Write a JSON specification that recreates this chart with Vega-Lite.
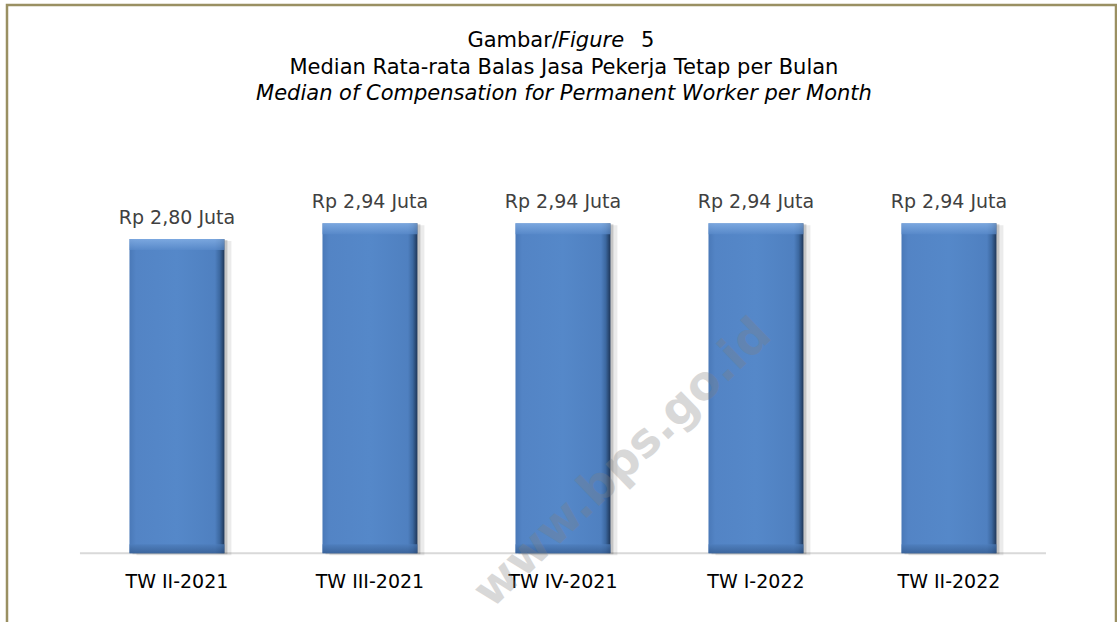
{
  "$schema": "https://vega.github.io/schema/vega-lite/v6.json",
  "width": 1109,
  "height": 638,
  "autosize": {"type": "none"},
  "padding": {"left": 7, "top": 5, "right": 1, "bottom": 0},
  "background": "white",
  "config": {
    "view": {"stroke": "#9a9062", "strokeWidth": 2.5},
    "font": "DejaVu Sans"
  },
  "data": {
    "values": [
      {"periode": "TW II-2021", "median": 2.80, "label": "Rp 2,80 Juta"},
      {"periode": "TW III-2021", "median": 2.94, "label": "Rp 2,94 Juta"},
      {"periode": "TW IV-2021", "median": 2.94, "label": "Rp 2,94 Juta"},
      {"periode": "TW I-2022", "median": 2.94, "label": "Rp 2,94 Juta"},
      {"periode": "TW II-2022", "median": 2.94, "label": "Rp 2,94 Juta"}
    ]
  },
  "layer": [
    {
      "data": {"values": [{}]},
      "mark": {"type": "rule", "color": "#d9d9d9", "strokeWidth": 2, "xOffset": -97, "x2Offset": 97},
      "encoding": {
        "x": {"datum": "TW II-2021", "type": "nominal", "scale": {"type": "band", "domain": ["TW II-2021", "TW III-2021", "TW IV-2021", "TW I-2022", "TW II-2022"], "paddingInner": 0.508, "paddingOuter": 0.627, "align": 0.506}, "axis": null},
        "x2": {"datum": "TW II-2022"},
        "y": {"datum": 0, "type": "quantitative", "scale": {"domain": [-0.8, 4.884], "nice": false, "zero": false}, "axis": null}
      }
    },
    {
      "mark": {"type": "bar", "color": "#000000", "opacity": 0.16, "xOffset": 3, "yOffset": 1},
      "encoding": {
        "x": {"field": "periode", "type": "nominal", "sort": null, "scale": {"type": "band", "domain": ["TW II-2021", "TW III-2021", "TW IV-2021", "TW I-2022", "TW II-2022"], "paddingInner": 0.508, "paddingOuter": 0.627, "align": 0.506}, "axis": null},
        "y": {"field": "median", "type": "quantitative", "scale": {"domain": [-0.8, 4.884], "nice": false, "zero": false}, "axis": null}
      }
    },
    {
      "mark": {"type": "bar", "color": "#000000", "opacity": 0.08, "xOffset": 7, "yOffset": 2},
      "encoding": {
        "x": {"field": "periode", "type": "nominal", "sort": null, "scale": {"type": "band", "domain": ["TW II-2021", "TW III-2021", "TW IV-2021", "TW I-2022", "TW II-2022"], "paddingInner": 0.508, "paddingOuter": 0.627, "align": 0.506}, "axis": null},
        "y": {"field": "median", "type": "quantitative", "scale": {"domain": [-0.8, 4.884], "nice": false, "zero": false}, "axis": null}
      }
    },
    {
      "mark": {
        "type": "bar",
        "color": {
          "gradient": "linear", "x1": 0, "y1": 0, "x2": 1, "y2": 0,
          "stops": [
            {"offset": 0, "color": "#4a79b8"},
            {"offset": 0.07, "color": "#5384c5"},
            {"offset": 0.5, "color": "#5588c9"},
            {"offset": 0.9, "color": "#4f80c0"},
            {"offset": 0.95, "color": "#3c68a0"},
            {"offset": 1, "color": "#1e3658"}
          ]
        }
      },
      "encoding": {
        "x": {"field": "periode", "type": "nominal", "sort": null, "scale": {"type": "band", "domain": ["TW II-2021", "TW III-2021", "TW IV-2021", "TW I-2022", "TW II-2022"], "paddingInner": 0.508, "paddingOuter": 0.627, "align": 0.506}, "axis": null},
        "y": {"field": "median", "type": "quantitative", "scale": {"domain": [-0.8, 4.884], "nice": false, "zero": false}, "axis": null}
      }
    },
    {
      "mark": {
        "type": "tick", "orient": "horizontal", "thickness": 11, "size": 95, "yOffset": 5.5,
        "color": {
          "gradient": "linear", "x1": 0, "y1": 0, "x2": 0, "y2": 1,
          "stops": [
            {"offset": 0, "color": "#8cb6ea"},
            {"offset": 1, "color": "#5a8bcb"}
          ]
        }
      },
      "encoding": {
        "x": {"field": "periode", "type": "nominal", "sort": null, "scale": {"type": "band", "domain": ["TW II-2021", "TW III-2021", "TW IV-2021", "TW I-2022", "TW II-2022"], "paddingInner": 0.508, "paddingOuter": 0.627, "align": 0.506}, "axis": null},
        "y": {"field": "median", "type": "quantitative", "scale": {"domain": [-0.8, 4.884], "nice": false, "zero": false}, "axis": null}
      }
    },
    {
      "mark": {
        "type": "tick", "orient": "horizontal", "thickness": 9, "size": 95, "yOffset": -4.5,
        "color": {
          "gradient": "linear", "x1": 0, "y1": 0, "x2": 0, "y2": 1,
          "stops": [
            {"offset": 0, "color": "#4d7dbb"},
            {"offset": 1, "color": "#33598c"}
          ]
        }
      },
      "encoding": {
        "x": {"field": "periode", "type": "nominal", "sort": null, "scale": {"type": "band", "domain": ["TW II-2021", "TW III-2021", "TW IV-2021", "TW I-2022", "TW II-2022"], "paddingInner": 0.508, "paddingOuter": 0.627, "align": 0.506}, "axis": null},
        "y": {"datum": 0, "type": "quantitative", "scale": {"domain": [-0.8, 4.884], "nice": false, "zero": false}, "axis": null}
      }
    },
    {
      "mark": {"type": "text", "fontSize": 19, "color": "#404040", "baseline": "alphabetic", "align": "center", "dy": -15},
      "encoding": {
        "x": {"field": "periode", "type": "nominal", "sort": null, "scale": {"type": "band", "domain": ["TW II-2021", "TW III-2021", "TW IV-2021", "TW I-2022", "TW II-2022"], "paddingInner": 0.508, "paddingOuter": 0.627, "align": 0.506}, "axis": null},
        "y": {"field": "median", "type": "quantitative", "scale": {"domain": [-0.8, 4.884], "nice": false, "zero": false}, "axis": null},
        "text": {"field": "label"}
      }
    },
    {
      "mark": {"type": "text", "fontSize": 19, "color": "#000000", "baseline": "alphabetic", "align": "center"},
      "encoding": {
        "x": {"field": "periode", "type": "nominal", "sort": null, "scale": {"type": "band", "domain": ["TW II-2021", "TW III-2021", "TW IV-2021", "TW I-2022", "TW II-2022"], "paddingInner": 0.508, "paddingOuter": 0.627, "align": 0.506}, "axis": null},
        "y": {"datum": -0.31, "type": "quantitative", "scale": {"domain": [-0.8, 4.884], "nice": false, "zero": false}, "axis": null},
        "text": {"field": "periode"}
      }
    },
    {
      "data": {"values": [{}]},
      "mark": {"type": "text", "fontSize": 47, "fontWeight": "bold", "color": "#808080", "opacity": 0.3, "angle": -44, "align": "center", "baseline": "middle", "xOffset": 60},
      "encoding": {
        "x": {"datum": "TW IV-2021", "type": "nominal", "scale": {"type": "band", "domain": ["TW II-2021", "TW III-2021", "TW IV-2021", "TW I-2022", "TW II-2022"], "paddingInner": 0.508, "paddingOuter": 0.627, "align": 0.506}, "axis": null},
        "y": {"datum": 0.8, "type": "quantitative", "scale": {"domain": [-0.8, 4.884], "nice": false, "zero": false}, "axis": null},
        "text": {"value": "www.bps.go.id"}
      }
    },
    {
      "data": {"values": [{}]},
      "mark": {"type": "text", "fontSize": 21, "color": "#000000", "baseline": "alphabetic", "align": "right", "dx": -4},
      "encoding": {
        "x": {"datum": "TW IV-2021", "type": "nominal", "scale": {"type": "band", "domain": ["TW II-2021", "TW III-2021", "TW IV-2021", "TW I-2022", "TW II-2022"], "paddingInner": 0.508, "paddingOuter": 0.627, "align": 0.506}, "axis": null},
        "y": {"datum": 4.51, "type": "quantitative", "scale": {"domain": [-0.8, 4.884], "nice": false, "zero": false}, "axis": null},
        "text": {"value": "Gambar/"}
      }
    },
    {
      "data": {"values": [{}]},
      "mark": {"type": "text", "fontSize": 21, "fontStyle": "italic", "color": "#000000", "baseline": "alphabetic", "align": "left", "dx": -5},
      "encoding": {
        "x": {"datum": "TW IV-2021", "type": "nominal", "scale": {"type": "band", "domain": ["TW II-2021", "TW III-2021", "TW IV-2021", "TW I-2022", "TW II-2022"], "paddingInner": 0.508, "paddingOuter": 0.627, "align": 0.506}, "axis": null},
        "y": {"datum": 4.51, "type": "quantitative", "scale": {"domain": [-0.8, 4.884], "nice": false, "zero": false}, "axis": null},
        "text": {"value": "Figure"}
      }
    },
    {
      "data": {"values": [{}]},
      "mark": {"type": "text", "fontSize": 21, "color": "#000000", "baseline": "alphabetic", "align": "left", "dx": 78},
      "encoding": {
        "x": {"datum": "TW IV-2021", "type": "nominal", "scale": {"type": "band", "domain": ["TW II-2021", "TW III-2021", "TW IV-2021", "TW I-2022", "TW II-2022"], "paddingInner": 0.508, "paddingOuter": 0.627, "align": 0.506}, "axis": null},
        "y": {"datum": 4.51, "type": "quantitative", "scale": {"domain": [-0.8, 4.884], "nice": false, "zero": false}, "axis": null},
        "text": {"value": "5"}
      }
    },
    {
      "data": {"values": [{}]},
      "mark": {"type": "text", "fontSize": 21, "color": "#000000", "baseline": "alphabetic", "align": "center", "dx": 1},
      "encoding": {
        "x": {"datum": "TW IV-2021", "type": "nominal", "scale": {"type": "band", "domain": ["TW II-2021", "TW III-2021", "TW IV-2021", "TW I-2022", "TW II-2022"], "paddingInner": 0.508, "paddingOuter": 0.627, "align": 0.506}, "axis": null},
        "y": {"datum": 4.269, "type": "quantitative", "scale": {"domain": [-0.8, 4.884], "nice": false, "zero": false}, "axis": null},
        "text": {"value": "Median Rata-rata Balas Jasa Pekerja Tetap per Bulan"}
      }
    },
    {
      "data": {"values": [{}]},
      "mark": {"type": "text", "fontSize": 21, "fontStyle": "italic", "color": "#000000", "baseline": "alphabetic", "align": "center", "dx": 1},
      "encoding": {
        "x": {"datum": "TW IV-2021", "type": "nominal", "scale": {"type": "band", "domain": ["TW II-2021", "TW III-2021", "TW IV-2021", "TW I-2022", "TW II-2022"], "paddingInner": 0.508, "paddingOuter": 0.627, "align": 0.506}, "axis": null},
        "y": {"datum": 4.038, "type": "quantitative", "scale": {"domain": [-0.8, 4.884], "nice": false, "zero": false}, "axis": null},
        "text": {"value": "Median of Compensation for Permanent Worker per Month"}
      }
    }
  ]
}
